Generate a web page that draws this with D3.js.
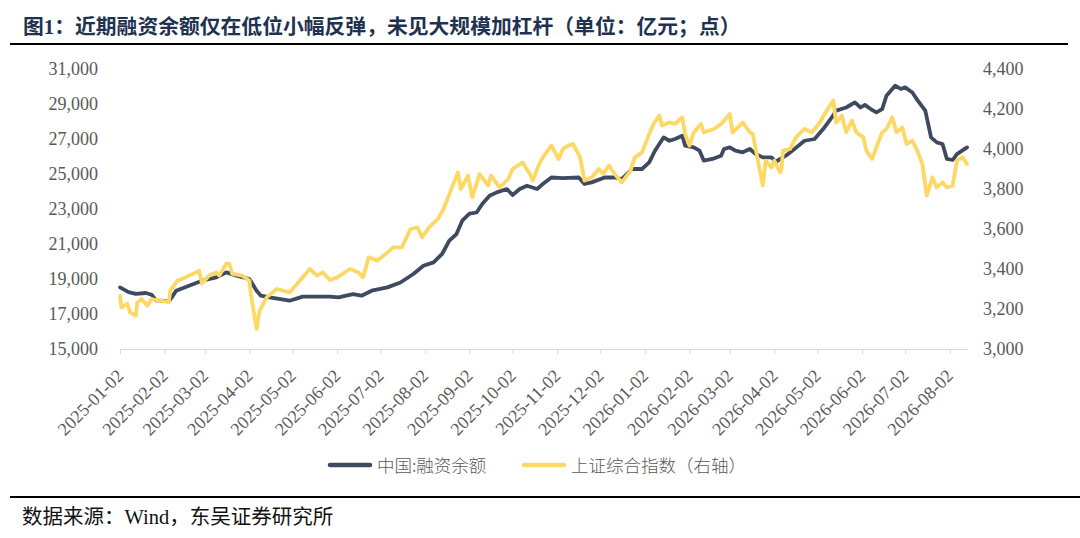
<!DOCTYPE html>
<meta charset="utf-8">
<script src="https://d3js.org/d3.v7.min.js"></script>
<style>
  body { margin: 0; background: #fff; }
  svg { display: block; }
</style>
<div id="chart"></div>
<script>

// ---- data ----
var marginDates = ["2025-01-02","2025-01-08","2025-01-13","2025-01-20","2025-01-24","2025-01-27","2025-02-05","2025-02-07","2025-02-10","2025-02-19",
  "2025-02-28","2025-03-10","2025-03-17","2025-03-24","2025-04-02","2025-04-07","2025-04-10","2025-04-16","2025-04-30","2025-05-09",
  "2025-05-28","2025-06-03","2025-06-13","2025-06-19","2025-06-26","2025-07-07","2025-07-16","2025-07-25","2025-08-01","2025-08-08",
  "2025-08-14","2025-08-19","2025-08-24","2025-08-28","2025-09-02","2025-09-07","2025-09-11","2025-09-16","2025-09-21","2025-09-28",
  "2025-10-02","2025-10-07","2025-10-12","2025-10-19","2025-10-23","2025-10-29","2025-11-06","2025-11-17","2025-11-21","2025-11-26",
  "2025-12-05","2025-12-12","2025-12-17","2025-12-24","2025-12-31","2026-01-05","2026-01-09","2026-01-15","2026-01-19","2026-01-23",
  "2026-01-28","2026-01-30","2026-02-05","2026-02-09","2026-02-12","2026-02-18","2026-02-24","2026-02-26","2026-03-02","2026-03-06",
  "2026-03-11","2026-03-16","2026-03-20","2026-03-25","2026-03-31","2026-04-03","2026-04-10","2026-04-16","2026-04-23","2026-04-30",
  "2026-05-06","2026-05-12","2026-05-15","2026-05-22","2026-05-28","2026-06-01","2026-06-04","2026-06-08","2026-06-12","2026-06-16",
  "2026-06-19","2026-06-25","2026-06-29","2026-07-02","2026-07-07","2026-07-10","2026-07-16","2026-07-20","2026-07-24","2026-07-28",
  "2026-07-31","2026-08-04","2026-08-07","2026-08-14"];
var marginValues = [18520,18250,18150,18200,18100,17780,17730,17950,18330,18620,
  18900,19090,19380,19190,19000,18330,18045,17950,17760,17990,
  17990,17950,18140,18045,18330,18520,18800,19285,19760,19950,
  20430,21190,21570,22330,22730,22800,23300,23760,23950,24140,
  23800,24140,24330,24140,24430,24800,24760,24800,24430,24520,
  24800,24800,24710,25285,25285,25660,26330,27090,26900,27000,
  27190,26620,26520,26330,25760,25860,26045,26430,26520,26330,
  26240,26430,26140,25950,25950,25700,26045,26430,26900,27000,
  27570,28230,28620,28800,29090,28800,28950,28710,28520,28710,
  29470,30045,29860,29950,29660,29285,28620,27090,26810,26715,
  25860,25800,26140,26520];

var sseDates = ["2025-01-02","2025-01-03","2025-01-07","2025-01-09","2025-01-13","2025-01-14","2025-01-17","2025-01-21","2025-01-24","2025-01-27",
  "2025-02-05","2025-02-06","2025-02-11","2025-02-14","2025-02-19","2025-02-24","2025-02-26","2025-02-28","2025-03-05","2025-03-10",
  "2025-03-12","2025-03-17","2025-03-19","2025-03-21","2025-03-28","2025-04-02","2025-04-03","2025-04-07","2025-04-09","2025-04-14",
  "2025-04-21","2025-04-30","2025-05-08","2025-05-14","2025-05-19","2025-05-23","2025-05-28","2025-06-02","2025-06-11","2025-06-17",
  "2025-06-20","2025-06-24","2025-06-30","2025-07-07","2025-07-11","2025-07-17","2025-07-23","2025-07-28","2025-07-31","2025-08-05",
  "2025-08-11","2025-08-15","2025-08-20","2025-08-25","2025-08-27","2025-09-01","2025-09-04","2025-09-09","2025-09-15","2025-09-17",
  "2025-09-23","2025-09-29","2025-10-02","2025-10-09","2025-10-14","2025-10-16","2025-10-20","2025-10-23","2025-10-29","2025-11-03",
  "2025-11-06","2025-11-10","2025-11-13","2025-11-18","2025-11-21","2025-11-26","2025-12-01","2025-12-04","2025-12-08","2025-12-12",
  "2025-12-17","2025-12-23","2025-12-26","2025-12-31","2026-01-05","2026-01-08","2026-01-12","2026-01-14","2026-01-19","2026-01-23",
  "2026-01-28","2026-01-30","2026-02-02","2026-02-05","2026-02-10","2026-02-12","2026-02-19","2026-02-24","2026-03-02","2026-03-04",
  "2026-03-09","2026-03-11","2026-03-16","2026-03-18","2026-03-23","2026-03-25","2026-03-27","2026-03-31","2026-04-02","2026-04-06",
  "2026-04-07","2026-04-08","2026-04-13","2026-04-17","2026-04-23","2026-04-28","2026-05-03","2026-05-07","2026-05-13","2026-05-15",
  "2026-05-19","2026-05-22","2026-05-26","2026-05-29","2026-06-03","2026-06-05","2026-06-09","2026-06-12","2026-06-16","2026-06-19",
  "2026-06-23","2026-06-26","2026-06-30","2026-07-03","2026-07-07","2026-07-10","2026-07-14","2026-07-17","2026-07-21","2026-07-24",
  "2026-07-28","2026-07-31","2026-08-04","2026-08-07","2026-08-11","2026-08-14"];
var sseValues = [3267,3208,3227,3183,3167,3233,3250,3217,3250,3245,
  3235,3292,3342,3350,3367,3383,3392,3327,3367,3383,
  3367,3427,3427,3376,3367,3342,3275,3100,3190,3258,
  3300,3283,3350,3400,3367,3383,3345,3358,3400,3383,
  3358,3458,3442,3483,3508,3508,3600,3608,3558,3608,
  3650,3700,3792,3883,3800,3867,3758,3875,3817,3867,
  3808,3850,3900,3933,3875,3842,3917,3958,4017,3950,
  4000,4017,4025,3958,3842,3858,3900,3875,3917,3875,
  3833,3892,3958,3983,4075,4125,4167,4117,4133,4125,
  4158,4075,4017,4083,4125,4083,4100,4125,4175,4083,
  4117,4133,4083,4075,3892,3817,3942,3908,3942,3883,
  3900,3992,4000,4058,4100,4083,4125,4175,4242,4133,
  4167,4083,4142,4083,4058,3992,3950,4008,4083,4100,
  4158,4083,4108,4025,4042,4000,3925,3767,3858,3808,
  3833,3808,3817,3942,3958,3925];

var xTickLabels = ["2025-01-02","2025-02-02","2025-03-02","2025-04-02","2025-05-02","2025-06-02","2025-07-02","2025-08-02","2025-09-02","2025-10-02",
  "2025-11-02","2025-12-02","2026-01-02","2026-02-02","2026-03-02","2026-04-02","2026-05-02","2026-06-02","2026-07-02","2026-08-02"];
var leftTicks = [15000,17000,19000,21000,23000,25000,27000,29000,31000];
var rightTicks = [3000,3200,3400,3600,3800,4000,4200,4400];
var seriesNames = ["中国:融资余额", "上证综合指数（右轴）"];

var titleText = "图1：近期融资余额仅在低位小幅反弹，未见大规模加杠杆（单位：亿元；点）";
var sourceText = "数据来源：Wind，东吴证券研究所";

// ---- layout ----
var W = 1080, H = 538;
var plot = {left: 120, right: 967, top: 69, bottom: 349};
var darkColor = "#3d4a5f", yellowColor = "#fdd865";
var numFont = "'Liberation Serif', 'Noto Sans CJK SC', serif";

var parse = d3.timeParse("%Y-%m-%d");

var svg = d3.select("#chart").append("svg")
    .attr("width", W)
    .attr("height", H);

// title + rules
svg.append("text")
    .attr("x", 23).attr("y", 34)
    .style("font-family", numFont)
    .style("font-size", "20.8px")
    .style("font-weight", "bold")
    .style("fill", "#1f3350")
    .text(titleText);

svg.append("line")
    .attr("x1", 10).attr("x2", 1068).attr("y1", 44).attr("y2", 44)
    .attr("stroke", "#000").attr("stroke-width", 2);

svg.append("line")
    .attr("x1", 10).attr("x2", 1080).attr("y1", 497).attr("y2", 497)
    .attr("stroke", "#000").attr("stroke-width", 2);

svg.append("text")
    .attr("x", 22).attr("y", 524)
    .style("font-family", numFont)
    .style("font-size", "20.5px")
    .style("fill", "#111")
    .text(sourceText);

// scales
var x = d3.scaleTime()
    .domain([parse(marginDates[0]), parse(marginDates[marginDates.length - 1])])
    .range([plot.left, plot.right]);
var yL = d3.scaleLinear().domain([15000, 31000]).range([plot.bottom, plot.top]);
var yR = d3.scaleLinear().domain([3000, 4400]).range([plot.bottom, plot.top]);

// x axis
var xAxis = svg.append("g")
    .attr("transform", "translate(0," + plot.bottom + ")")
    .call(d3.axisBottom(x)
        .tickValues(xTickLabels.map(parse))
        .tickSize(5)
        .tickSizeOuter(0)
        .tickFormat(d3.timeFormat("%Y-%m-%d")));
xAxis.select(".domain").attr("stroke", "#d9d9d9");
xAxis.selectAll(".tick line").attr("stroke", "#d9d9d9");
xAxis.selectAll(".tick text")
    .attr("x", 0).attr("y", 0).attr("dy", 0)
    .attr("text-anchor", "end")
    .attr("transform", "translate(4,28) rotate(-45)")
    .style("font-family", numFont)
    .style("font-size", "18px")
    .style("fill", "#595959");

// left axis
var leftAxis = svg.append("g")
    .attr("transform", "translate(" + plot.left + ",0)")
    .call(d3.axisLeft(yL).tickValues(leftTicks).tickSize(0).tickPadding(22).tickFormat(d3.format(",")));
leftAxis.select(".domain").remove();
leftAxis.selectAll("text")
    .style("font-family", numFont)
    .style("font-size", "18px")
    .style("fill", "#595959");

// right axis
var rightAxis = svg.append("g")
    .attr("transform", "translate(" + plot.right + ",0)")
    .call(d3.axisRight(yR).tickValues(rightTicks).tickSize(0).tickPadding(16).tickFormat(d3.format(",")));
rightAxis.select(".domain").remove();
rightAxis.selectAll("text")
    .style("font-family", numFont)
    .style("font-size", "18px")
    .style("fill", "#595959");

// lines
var marginData = marginDates.map(function(d, i) { return {date: parse(d), v: marginValues[i]}; });
var sseData = sseDates.map(function(d, i) { return {date: parse(d), v: sseValues[i]}; });

svg.append("path")
    .datum(marginData)
    .attr("fill", "none")
    .attr("stroke", darkColor)
    .attr("stroke-width", 3.8)
    .attr("stroke-linejoin", "round")
    .attr("stroke-linecap", "round")
    .attr("d", d3.line().x(function(d) { return x(d.date); }).y(function(d) { return yL(d.v); }));

svg.append("path")
    .datum(sseData)
    .attr("fill", "none")
    .attr("stroke", yellowColor)
    .attr("stroke-width", 3.8)
    .attr("stroke-linejoin", "round")
    .attr("stroke-linecap", "round")
    .attr("d", d3.line().x(function(d) { return x(d.date); }).y(function(d) { return yR(d.v); }));

// legend
var legend = [
  {name: seriesNames[0], color: darkColor, x: 330},
  {name: seriesNames[1], color: yellowColor, x: 524}
];
var lg = svg.selectAll(".legend").data(legend).enter().append("g")
    .attr("class", "legend")
    .attr("transform", function(d) { return "translate(" + d.x + ",465)"; });
lg.append("line")
    .attr("x1", 0).attr("x2", 40).attr("y1", 0).attr("y2", 0)
    .attr("stroke", function(d) { return d.color; })
    .attr("stroke-width", 4.5)
    .attr("stroke-linecap", "round");
lg.append("text")
    .attr("x", 47).attr("y", 6.5)
    .style("font-family", "'Noto Sans CJK SC', sans-serif")
    .style("font-weight", 300)
    .style("font-size", "17.5px")
    .style("fill", "#595959")
    .text(function(d) { return d.name; });

</script>
